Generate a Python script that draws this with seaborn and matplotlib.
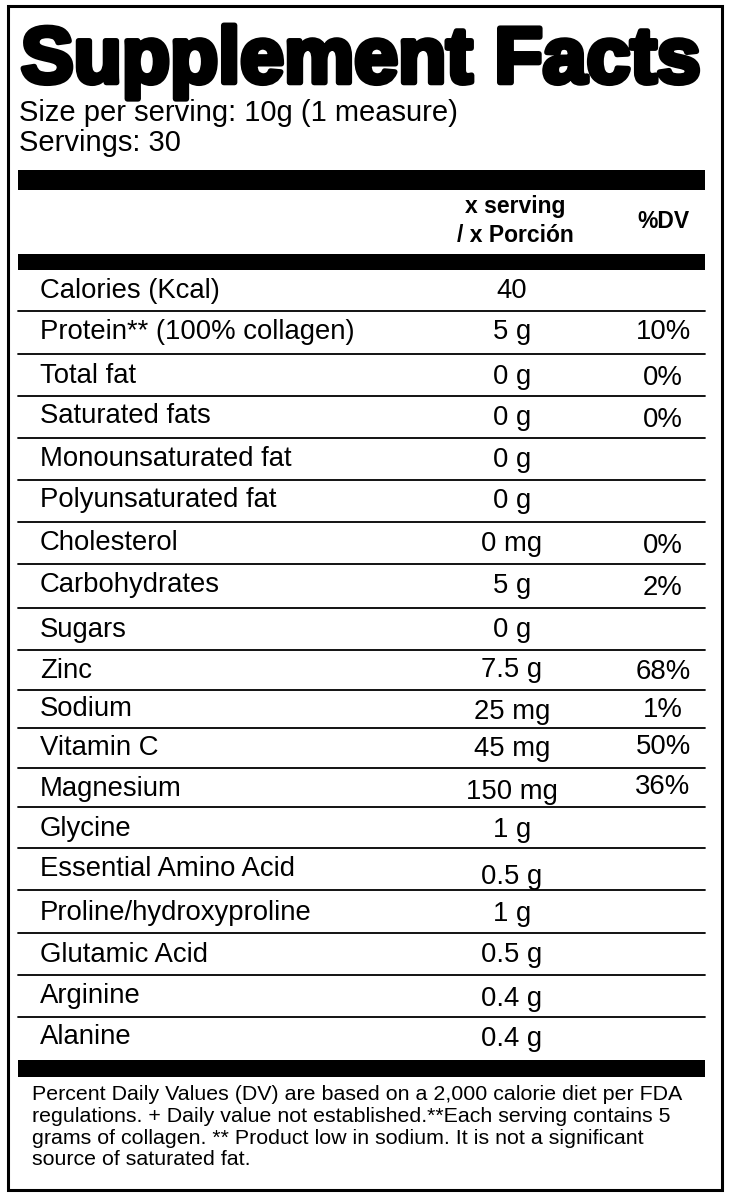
import matplotlib
matplotlib.use("Agg")
import matplotlib.pyplot as plt
import matplotlib.patheffects as pe
import seaborn as sns

sns.set_theme(style="white")
plt.rcParams['font.family'] = ['Liberation Sans', 'DejaVu Sans']
plt.rcParams['text.color'] = 'black'

nutrients = ["Calories (Kcal)", "Protein** (100% collagen)", "Total fat", "Saturated fats",
             "Monounsaturated fat", "Polyunsaturated fat", "Cholesterol", "Carbohydrates",
             "Sugars", "Zinc", "Sodium", "Vitamin C", "Magnesium", "Glycine",
             "Essential Amino Acid", "Proline/hydroxyproline", "Glutamic Acid", "Arginine", "Alanine"]
amounts = ["40", "5 g", "0 g", "0 g", "0 g", "0 g", "0 mg", "5 g", "0 g", "7.5 g", "25 mg",
           "45 mg", "150 mg", "1 g", "0.5 g", "1 g", "0.5 g", "0.4 g", "0.4 g"]
dv = ["", "10%", "0%", "0%", "", "", "0%", "2%", "", "68%", "1%", "50%", "36%", "", "", "", "", "", ""]
label_y = [291, 332, 376, 416, 459, 500, 543, 585, 630, 671, 709, 748, 789, 829, 869, 913, 955, 996, 1037]
amount_y = [291, 332, 377, 418, 460, 501, 544, 586, 630, 670, 712, 749, 792, 830, 877, 914, 955, 999, 1039]
dv_y = [291, 332, 378, 420, None, None, 546, 588, None, 672, 710, 747, 787]
rule_y = [311, 354, 396, 438, 480, 522, 564, 608, 650, 690, 728, 768, 807, 848, 890, 933, 975, 1017]
footnote = ["Percent Daily Values (DV) are based on a 2,000 calorie diet per FDA",
            "regulations. + Daily value not established.**Each serving contains 5",
            "grams of collagen. ** Product low in sodium. It is not a significant",
            "source of saturated fat."]

W, H = 730, 1196
fig = plt.figure(figsize=(W/100, H/100), dpi=100)
ax = fig.add_axes([0, 0, 1, 1])
ax.set_xlim(0, W); ax.set_ylim(H, 0); ax.axis("off")
fig.patch.set_facecolor("white")

ax.add_patch(plt.Rectangle((8, 6), 714, 1184, fill=False, lw=2.2, ec="black"))

t = ax.text(21, 62, "Supplement Facts", fontsize=60, fontweight="bold", va="center", ha="left",
            path_effects=[pe.withStroke(linewidth=4, foreground="black")])
fig.canvas.draw()
bb = t.get_window_extent()
t.set_fontsize(60 * 680 / bb.width)

ax.text(19, 113, "Size per serving: 10g (1 measure)", fontsize=21, va="center")
ax.text(19, 143, "Servings: 30", fontsize=21, va="center")

for y0, y1 in [(170, 190), (254, 270), (1060, 1077)]:
    ax.add_patch(plt.Rectangle((18, y0), 687, y1 - y0, color="black", lw=0))

ax.text(515, 207, "x serving", fontsize=16.5, fontweight="bold", ha="center", va="center")
ax.text(515, 236, "/ x Porción", fontsize=16.5, fontweight="bold", ha="center", va="center")
ax.text(663, 221, "%DV", fontsize=16.5, fontweight="bold", ha="center", va="center")

for y in rule_y:
    ax.plot([18, 705], [y, y], color="black", lw=1.3)

for i, name in enumerate(nutrients):
    ax.text(40, label_y[i], name, fontsize=19.8, va="center")
    ax.text(512, amount_y[i], amounts[i], fontsize=19.8, va="center", ha="center")
    if dv[i]:
        ax.text(663, dv_y[i], dv[i], fontsize=19.8, va="center", ha="center")

for j, line in enumerate(footnote):
    ax.text(32, 1095 + j * 21.5, line, fontsize=15.4, va="center")

fig.savefig("out.png", dpi=100)
